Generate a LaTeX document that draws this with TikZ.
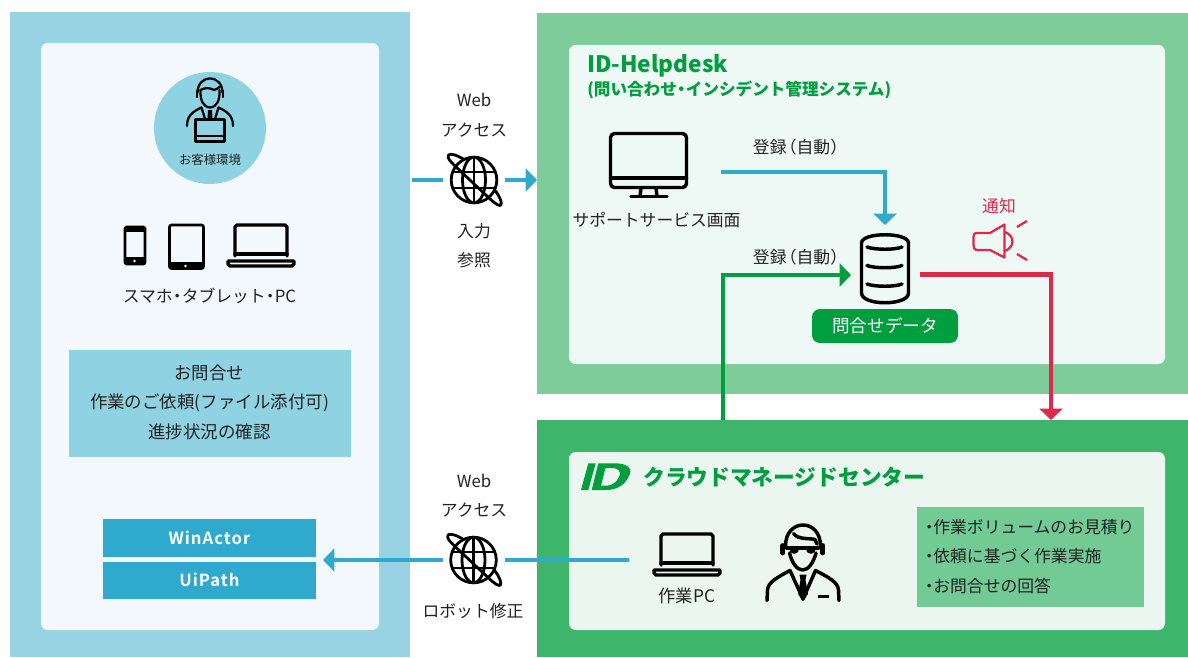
\documentclass[tikz,border=0pt]{standalone}
\usepackage{fontspec}
\setmainfont{Noto Sans CJK JP}
\newfontfamily\boxfont[LetterSpace=6]{Noto Sans CJK JP Bold}
\usetikzlibrary{arrows.meta,positioning,calc}
\definecolor{custblue}{HTML}{97D3E3}
\definecolor{custcircle}{HTML}{8FD3E3}
\definecolor{custpale}{HTML}{F2F8FB}
\definecolor{lineblue}{HTML}{2FAACE}
\definecolor{idgreen}{HTML}{009E3E}
\definecolor{deskouter}{HTML}{7FCC9B}
\definecolor{deskpale}{HTML}{EEF8F4}
\definecolor{cloudouter}{HTML}{3DB56A}
\definecolor{cloudpale}{HTML}{EBF6F0}
\definecolor{workbox}{HTML}{72CA95}
\definecolor{alertred}{HTML}{DC2A4A}
\definecolor{inkgray}{HTML}{222222}
\def\u{0.75pt}
\def\middot{\hspace{-.23em}・\hspace{-.23em}}
\def\listdot{・\hspace{-.25em}}
\def\openp{\hspace{-.4em}（}
\def\closep{）\hspace{-.4em}}
\tikzset{
	panel/.style={rectangle, inner sep=0pt, outer sep=0pt, fill=#1},
	inner panel/.style={rectangle, inner sep=0pt, outer sep=0pt, fill=#1, rounded corners=5pt},
	label text/.style={font=\fontsize{12.6}{14}\selectfont, text=inkgray, inner sep=0pt},
	big text/.style={font=\fontsize{13.1}{15}\selectfont, text=inkgray, inner sep=0pt},
	title text/.style={font=\fontsize{16.3}{20}\selectfont\bfseries, text=idgreen, inner sep=0pt, anchor=west},
	icon/.style={draw=black, line width=2.6pt, line join=round, line cap=round},
	thin icon/.style={icon, line width=1.7pt},
	globe line/.style={icon, line width=2.1pt},
	flow/.style={line width=3.4pt, draw=#1},
	flowtip/.style={-{Triangle[length=8.5pt,width=17pt]}},
	globe spot/.style={circle, inner sep=0pt, outer sep=0pt, minimum size=62*\u},
}
\def\globeicon(#1,#2){
	\begin{scope}[shift={(#1,#2)}]
		\draw[globe line] (0,0) circle [radius=22.8];
		\draw[globe line] (0,0) ellipse [x radius=11.5, y radius=22.8];
		\draw[globe line] (0,-22.8) -- (0,22.8);
		\draw[globe line] (-21,-8) -- (21,-8);
		\draw[globe line] (-21,8) -- (21,8);
		\draw[globe line] (-10,-20.5) .. controls (-17,-25) and (-24,-27) .. (-25.5,-25) .. controls (-27,-22) and (-24,-19) .. (-20,-15) -- (15,18) .. controls (20,23) and (26,27) .. (27,25) .. controls (28,22) and (26,17) .. (21.5,11);
	\end{scope}
}
\def\laptopicon(#1,#2){
	\begin{scope}[shift={(#1,#2)}]
		\draw[icon] (8,32) -- (8,3) -- (10,1) -- (58,1) -- (60,3) -- (60,32);
		\draw[icon] (8,30) -- (60,30);
		\draw[icon] (1,37) -- (67,37) -- (67,40) -- (65,42) -- (3,42) -- (1,40) -- cycle;
	\end{scope}
}

\begin{document}
\begin{tikzpicture}[x=0.75pt, y=-0.75pt]
	\useasboundingbox (0,0) rectangle (1188,657);
	\fill[white] (0,0) rectangle (1188,657);

	%%%%% PANELS %%%%%
	\node[panel=custblue, minimum width=400*\u, minimum height=645*\u] (custouter) at (210,334.5) {};
	\node[inner panel=custpale, minimum width=338*\u, minimum height=587*\u] (custinner) at (210,336.5) {};
	\node[panel=deskouter, minimum width=651*\u, minimum height=381*\u] (deskouter) at (862.5,203.5) {};
	\node[inner panel=deskpale, minimum width=596*\u, minimum height=319*\u] (deskinner) at (867,204.5) {};
	\node[panel=cloudouter, minimum width=651*\u, minimum height=237*\u] (cloudouter) at (862.5,538.5) {};
	\node[inner panel=cloudpale, minimum width=596*\u, minimum height=178*\u] (cloudinner) at (867,541) {};

	%%%%% CUSTOMER SIDE %%%%%
	\fill[custcircle] (210,128) circle [radius=56];
	% person with laptop
	\draw[thin icon] (197.5,93) .. controls (197.5,73.5) and (222.5,73.5) .. (222.5,93);
	\draw[thin icon] (200.5,90) .. controls (200,100) and (203,107) .. (210,107.5) .. controls (217,107) and (220,100) .. (219.5,90);
	\draw[thin icon] (200.5,90) .. controls (206,87) and (210,88) .. (214,90) .. controls (216,89) and (218,89) .. (219.5,87);
	\draw[thin icon] (197,91) -- (197,97);
	\draw[thin icon] (223,91) -- (223,97);
	\draw[thin icon] (187,126) .. controls (187,116) and (192,112) .. (201.5,107.5) -- (205,119);
	\draw[thin icon] (233,126) .. controls (233,116) and (228,112) .. (218.5,107.5) -- (215,119);
	\fill[black] (208,110) -- (212,110) -- (212.5,119) -- (207.5,119) -- cycle;
	\draw[thin icon] (195.5,119.5) rectangle (224.5,141.5);
	\draw[line width=0.8pt] (195.5,136) -- (224.5,136);
	\node[label text, font=\fontsize{9.3}{11}\selectfont] (custlabel) at (210,160) {お客様環境};

	% devices
	\draw[icon, line width=2.2pt, rounded corners=1.5pt] (125,227) rectangle (145,264);
	\fill[black] (125,227) rectangle (145,232);
	\fill[black] (125,257) rectangle (145,264);
	\draw[icon, line width=2pt, rounded corners=1.5pt] (169.5,225) rectangle (203.5,268.5);
	\fill[black] (169.5,262) rectangle (203.5,268.5);
	\fill[white] (134.5,261) circle [radius=1.3];
	\fill[white] (185.5,266) circle [radius=1.3];
	\laptopicon(227,224)
	\node[label text] (devlabel) at (209.5,296) {スマホ\middot タブレット\middot PC};

	\node[panel=custcircle, minimum width=282*\u, minimum height=107*\u] (requestbox) at (210,403.5) {};
	\node[big text] (request a) at (209,373) {お問合せ};
	\node[big text] (request b) at (209.5,402.5) {作業のご依頼(ファイル添付可)};
	\node[big text] (request c) at (209.5,432) {進捗状況の確認};

	\node[panel=lineblue, minimum width=213*\u, minimum height=38*\u, text=white, font=\fontsize{12.5}{14}\boxfont] (winactor) at (209.5,538) {WinActor};
	\node[panel=lineblue, minimum width=213*\u, minimum height=37*\u, text=white, font=\fontsize{12.5}{14}\boxfont] (uipath) at (209.5,580) {UiPath};
	\coordinate (robottip) at (323,560);

	%%%%% TOP WEB ACCESS %%%%%
	\node[label text] (web a) at (474,100) {Web};
	\node[label text] (access a) at (474,130) {アクセス};
	\node[globe spot] (globe a) at (474,180) {};
	\globeicon(474,180)
	\node[label text] (input a) at (474,231) {入力};
	\node[label text] (refer a) at (474,260) {参照};
	\draw[flow=lineblue] ([xshift=2*\u]custouter.east |- globe a) -- (globe a.west);
	\draw[flow=lineblue, flowtip] (globe a.east) -- (deskouter.west |- globe a);

	%%%%% LOWER WEB ACCESS %%%%%
	\node[label text] (web b) at (474,481) {Web};
	\node[label text] (access b) at (474,510) {アクセス};
	\node[globe spot] (globe b) at (473.5,560) {};
	\globeicon(473.5,560)
	\node[label text] (fix b) at (473,611) {ロボット修正};

	%%%%% HELPDESK %%%%%
	\node[title text, font=\fontsize{17}{20}\selectfont\bfseries] (desktitle) at (587,66) {ID-Helpdesk};
	\node[title text, font=\fontsize{12.45}{14}\selectfont\bfseries] (desksub) at (587,90) {(問い合わせ\middot インシデント管理システム)};
	\draw[icon, rounded corners=3pt] (610.5,133.5) rectangle (686.5,187.5);
	\draw[icon] (610.5,178) -- (686.5,178);
	\draw[icon] (641,188) -- (640,196);
	\draw[icon] (656,188) -- (657,196);
	\draw[icon] (631,196.5) -- (667,196.5);
	\node[label text] (support) at (656.5,220) {サポートサービス画面};

	\coordinate (monitorout) at (721,172);
	\node[label text] (auto a) at (800,147) {登録\openp 自動\closep};
	\node[label text] (auto b) at (800,257) {登録\openp 自動\closep};

	% database
	\node[minimum width=50*\u, minimum height=71*\u, inner sep=0pt, outer sep=0pt] (database) at (885,268.5) {};
	\draw[icon] (861.5,243) .. controls (861.5,232) and (908.5,232) .. (908.5,243) -- (908.5,293) .. controls (908.5,306) and (861.5,306) .. (861.5,293) -- cycle;
	\draw[icon] (867,247) .. controls (875,250) and (895,250) .. (902,247);
	\draw[icon] (867,265.5) .. controls (875,268.5) and (895,268.5) .. (902,265.5);
	\draw[icon] (867,284) .. controls (875,287) and (895,287) .. (902,284);

	\node[rectangle, fill=idgreen, rounded corners=6pt, minimum width=146*\u, minimum height=34*\u, inner sep=0pt, text=white, font=\fontsize{13.2}{15}\selectfont] (datalabel) at (885,326) {問合せデータ};

	% alert
	\node[label text, text=alertred] (notify) at (999,206) {通知};
	\draw[alertred, line width=1.7pt, line join=round] (1004.5,224.5) -- (1004.5,257.5) -- (990,250) -- (978,250) .. controls (974,250) and (973.5,248) .. (973.5,245) -- (973.5,237) .. controls (973.5,234) and (974,233) .. (978,233) -- (990,233) -- cycle;
	\draw[alertred, line width=1.7pt] (1005,232) .. controls (1015,236) and (1015,247) .. (1005,251);
	\draw[alertred, line width=1.7pt] (1017,227) -- (1027,221);
	\draw[alertred, line width=1.7pt] (1017,254) -- (1027,260);

	%%%%% CLOUD CENTER %%%%%
	\fill[idgreen] (581,490) -- (588.3,463.3) -- (595.7,463.3) -- (588.3,490) -- cycle;
	\fill[idgreen, even odd rule] (591.7,490) -- (598.3,463.3) -- (615,463.3) .. controls (628,463.3) and (633,469) .. (629,476) .. controls (625,485) and (617,490) .. (606,490) -- cycle
		(601,485.7) -- (605.5,468) -- (612,468) .. controls (619,468) and (621,472) .. (619.5,476) .. controls (617,482) and (612,485.7) .. (607,485.7) -- cycle;
	\node[title text] (cloudtitle) at (643,477) {クラウドマネージドセンター};

	\laptopicon(653,533)
	\node[label text, font=\fontsize{13}{15}\selectfont] (pclabel) at (687,596) {作業PC};
	\coordinate (pcout) at (629,560);

	% operator
	\draw[icon] (785.5,546) .. controls (785.5,518) and (820.5,518) .. (820.5,546);
	\draw[icon] (789.5,553) .. controls (792,563) and (797,570) .. (802.7,570) .. controls (808,570) and (813.5,563) .. (816,553);
	\draw[icon] (793.5,533.5) .. controls (798,540) and (810,538) .. (815,539.5) -- (817,544);
	\draw[icon, line width=3.6pt] (782.8,545.5) -- (782.8,553);
	\draw[icon, line width=3.6pt] (822.8,545.5) -- (822.8,553);
	\draw[icon, line width=2.4pt] (786.5,548) -- (818.5,548);
	\fill[black] (790,548) -- (799,548) -- (798,552) .. controls (795,554.5) and (792,554) .. (790,552) -- cycle;
	\fill[black] (806,548) -- (815,548) -- (815,552) .. controls (813,554) and (810,554.5) .. (807,552) -- cycle;
	\draw[icon] (767,600.5) -- (767.5,590) .. controls (768,582) and (778,577) .. (790,570.5) -- (803,599);
	\draw[icon] (839,600.5) -- (838.5,590) .. controls (838,582) and (828,577) .. (815.5,570.5) -- (803,599);
	\fill[black] (799.5,574.5) -- (806.5,574.5) -- (805.5,580) -- (808,594) -- (803,601) -- (798,594) -- (800.5,580) -- cycle;
	\fill[black] (817.5,595) rectangle (828.5,598);

	\node[panel=workbox, minimum width=227*\u, minimum height=100*\u] (workpanel) at (1030.5,557) {};
	\node[label text, anchor=west] (work a) at (920.5,527) {\listdot 作業ボリュームのお見積り};
	\node[label text, anchor=west] (work b) at (920.5,556) {\listdot 依頼に基づく作業実施};
	\node[label text, anchor=west] (work c) at (920.5,586) {\listdot お問合せの回答};

	%%%%% CONNECTORS %%%%%
	\coordinate (greenfoot) at (723,420);
	\coordinate (redtip) at (1051,420);
	\draw[flow=lineblue, flowtip] (monitorout) -| ([yshift=8*\u]database.north);
	\draw[flow=idgreen, flowtip] (greenfoot) |- ([xshift=-9*\u, yshift=-6.5*\u]database.west);
	\draw[flow=alertred, flowtip] ([xshift=10*\u, yshift=-6*\u]database.east) -| (redtip);
	\draw[flow=lineblue, flowtip] (globe b.west) -- (robottip);
	\draw[flow=lineblue] (pcout) -- (globe b.east);
\end{tikzpicture}
\end{document}
